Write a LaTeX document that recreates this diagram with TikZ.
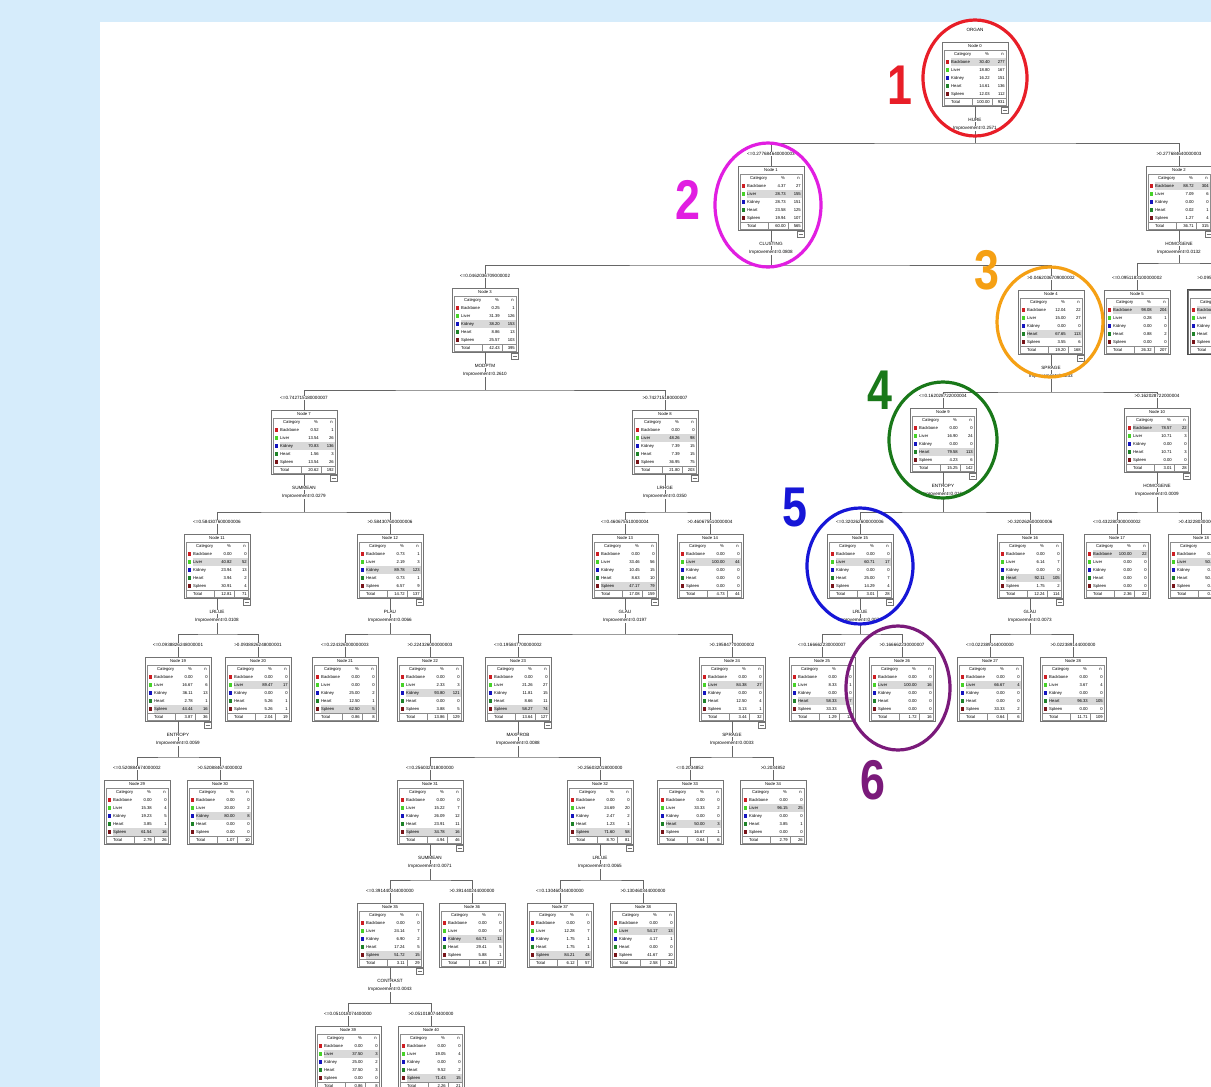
\documentclass[tikz,border=0pt]{standalone}
\usepackage{fontspec}
\setmainfont{Liberation Sans}
\usetikzlibrary{shapes.geometric}
\definecolor{bgblue}{RGB}{214,236,251}
\definecolor{cB}{RGB}{205,30,35}
\definecolor{cL}{RGB}{70,210,40}
\definecolor{cK}{RGB}{20,20,190}
\definecolor{cH}{RGB}{30,130,40}
\definecolor{cS}{RGB}{120,20,25}
\definecolor{aRed}{RGB}{232,30,40}
\definecolor{aMag}{RGB}{225,30,225}
\definecolor{aOra}{RGB}{245,160,20}
\definecolor{aGre}{RGB}{25,120,25}
\definecolor{aBlu}{RGB}{22,22,215}
\definecolor{aPur}{RGB}{122,26,122}
\tikzset{
 tbox/.style={draw=black!55, line width=0.5pt, fill=white, minimum width=66pt, minimum height=64pt, inner sep=0pt},
 tt/.style={font=\fontsize{4.2}{5}\selectfont, inner sep=0pt},
 tl/.style={tt, anchor=west},
 tr/.style={tt, anchor=east},
 lab/.style={font=\fontsize{4.6}{5.5}\selectfont, fill=white, inner sep=0.6pt},
 conn/.style={draw=black!60, line width=0.6pt},
 ring/.style={ellipse, draw, line width=3.2pt, inner sep=0pt},
 big/.style={font=\fontsize{56}{56}\selectfont\bfseries, inner sep=0pt, xscale=0.8}
}
\newcommand\tnode[8]{%
 \node[tbox] (#1) at (#2,#3+32) {};
 \begin{scope}[shift={(#2-33,#3)}]
  \ifnum#5>0\relax \fill[black!15] (9,8+8*#5) rectangle (64,16+8*#5);\fi
  \draw[black!45, line width=0.3pt] (2,8) rectangle (64,63);
  \draw[black!45, line width=0.3pt] (2,56) -- (64,56) (30,56)--(30,63) (50,56)--(50,63);
  \node[tt] at (33,4) {Node #4};
  \node[tl] at (12,12) {Category};
  \node[tr] at (47,12) {\%};
  \node[tr] at (62,12) {n};
  \foreach \c/\nm [count=\i] in {cB/Backbone,cL/Liver,cK/Kidney,cH/Heart,cS/Spleen}{
    \fill[\c] (3.5,10.3+8*\i) rectangle (7,13.8+8*\i);
    \node[tl] at (9,12+8*\i) {\nm};}
  \node[tl] at (9,60) {Total};
  \foreach \v [count=\i] in {#6}{\node[tr] at (48,12+8*\i) {\v};}
  \foreach \v [count=\i] in {#7}{\node[tr] at (63,12+8*\i) {\v};}
  \ifnum#8=1\relax \draw[black!55, line width=0.3pt, fill=white] (59,65) rectangle (66,71); \draw[black!55, line width=0.3pt] (60.5,68)--(64.5,68);\fi
 \end{scope}}
\newcommand\kids[5]{\coordinate (#1bar) at (#2,#3); \draw[conn] (#1.south) -- (#1bar); \draw[conn] (#4.north) |- (#1bar) -| (#5.north);}
\newcommand\splab[2]{\node[lab] at ([yshift=12pt]#1.north) {#2};}
\newcommand\imp[3]{\node[lab] at ([yshift=-14pt]#1.south) {#2}; \node[lab] at ([yshift=-22pt]#1.south) {Improvement=#3};}
\begin{document}
\begin{tikzpicture}[x=1pt,y=-1pt]
\useasboundingbox (0,0) rectangle (1211,1087);
\clip (0,0) rectangle (1211,1087);
\fill[bgblue] (0,0) rectangle (1211,1087);
\fill[white] (100,22) rectangle (1211,1087);
% nodes
\tnode{n0}{975}{42}{0}{1}{30.40,18.80,16.22,14.61,12.03,100.00}{277,167,151,136,112,931}{1}
\tnode{n1}{771}{166}{1}{2}{4.37,28.73,28.73,23.58,19.94,60.00}{27,155,151,125,107,565}{1}
\tnode{n2}{1179}{166}{2}{1}{88.72,7.09,0.00,0.02,1.27,36.71}{304,6,0,1,4,315}{1}
\tnode{n3}{485}{288}{3}{3}{0.25,31.39,38.20,8.86,25.57,42.43}{1,126,153,13,103,395}{1}
\tnode{n4}{1051}{290}{4}{4}{12.04,15.00,0.00,67.65,3.55,19.20}{22,27,0,113,6,168}{1}
\tnode{n5}{1137}{290}{5}{1}{98.08,0.28,0.00,0.88,0.00,26.32}{204,1,0,2,0,207}{0}
\tnode{n6}{1221}{290}{6}{1}{90.10,2.10,0.00,4.90,2.90,10.39}{91,2,0,5,3,101}{0}
\draw[line width=1.2pt, black!70] (n6.south west) rectangle (n6.north east);
\tnode{n7}{304}{410}{7}{3}{0.52,13.54,70.83,1.56,13.54,20.62}{1,26,136,3,26,192}{1}
\tnode{n8}{665}{410}{8}{2}{0.00,48.26,7.39,7.39,36.95,21.80}{0,98,15,15,75,203}{1}
\tnode{n9}{943}{408}{9}{4}{0.00,16.90,0.00,79.58,4.23,15.25}{0,24,0,113,6,142}{1}
\tnode{n10}{1157}{408}{10}{1}{78.57,10.71,0.00,10.71,0.00,3.01}{22,3,0,3,0,28}{1}
\tnode{n11}{217}{534}{11}{2}{0.00,40.82,23.94,3.94,30.91,12.81}{0,52,13,2,4,71}{1}
\tnode{n12}{390}{534}{12}{3}{0.73,2.19,89.78,0.73,6.57,14.72}{1,3,123,1,9,137}{1}
\tnode{n13}{625}{534}{13}{5}{0.00,33.46,10.45,8.63,47.17,17.08}{0,56,15,10,79,159}{1}
\tnode{n14}{710}{534}{14}{2}{0.00,100.00,0.00,0.00,0.00,4.73}{0,44,0,0,0,44}{0}
\tnode{n15}{860}{534}{15}{2}{0.00,60.71,0.00,25.00,14.29,3.01}{0,17,0,7,4,28}{1}
\tnode{n16}{1030}{534}{16}{4}{0.00,6.14,0.00,92.11,1.75,12.24}{0,7,0,105,2,114}{1}
\tnode{n17}{1117}{534}{17}{1}{100.00,0.00,0.00,0.00,0.00,2.36}{22,0,0,0,0,22}{0}
\tnode{n18}{1201}{534}{18}{2}{0.00,50.00,0.00,50.00,0.00,0.65}{0,3,0,3,0,6}{0}
\tnode{n19}{178}{657}{19}{5}{0.00,16.67,36.11,2.78,44.44,3.87}{0,6,13,1,16,36}{1}
\tnode{n20}{258}{657}{20}{2}{0.00,89.47,0.00,5.26,5.26,2.04}{0,17,0,1,1,19}{0}
\tnode{n21}{345}{657}{21}{5}{0.00,0.00,25.00,12.50,62.50,0.86}{0,0,2,1,5,8}{0}
\tnode{n22}{430}{657}{22}{3}{0.00,2.33,93.80,0.00,3.88,13.86}{0,3,121,0,5,129}{0}
\tnode{n23}{518}{657}{23}{5}{0.00,21.26,11.81,8.66,58.27,13.64}{0,27,15,11,74,127}{1}
\tnode{n24}{732}{657}{24}{2}{0.00,84.38,0.00,12.50,3.13,3.44}{0,27,0,4,1,32}{1}
\tnode{n25}{822}{657}{25}{4}{0.00,8.33,0.00,58.33,33.33,1.29}{0,1,0,7,4,12}{0}
\tnode{n26}{902}{657}{26}{2}{0.00,100.00,0.00,0.00,0.00,1.72}{0,16,0,0,0,16}{0}
\tnode{n27}{990}{657}{27}{2}{0.00,66.67,0.00,0.00,33.33,0.64}{0,4,0,0,2,6}{0}
\tnode{n28}{1073}{657}{28}{4}{0.00,3.67,0.00,96.33,0.00,11.71}{0,4,0,105,0,109}{0}
\tnode{n29}{137}{780}{29}{5}{0.00,15.38,19.23,3.85,61.54,2.79}{0,4,5,1,16,26}{0}
\tnode{n30}{220}{780}{30}{3}{0.00,20.00,80.00,0.00,0.00,1.07}{0,2,8,0,0,10}{0}
\tnode{n31}{430}{780}{31}{5}{0.00,15.22,26.09,23.91,34.78,4.94}{0,7,12,11,16,46}{1}
\tnode{n32}{600}{780}{32}{5}{0.00,24.69,2.47,1.23,71.60,8.70}{0,20,2,1,58,81}{1}
\tnode{n33}{690}{780}{33}{4}{0.00,33.33,0.00,50.00,16.67,0.64}{0,2,0,3,1,6}{0}
\tnode{n34}{773}{780}{34}{2}{0.00,96.15,0.00,3.85,0.00,2.79}{0,25,0,1,0,26}{0}
\tnode{n35}{390}{903}{35}{5}{0.00,24.14,6.90,17.24,51.72,3.11}{0,7,2,5,15,29}{1}
\tnode{n36}{472}{903}{36}{3}{0.00,0.00,64.71,29.41,5.88,1.83}{0,0,11,5,1,17}{0}
\tnode{n37}{560}{903}{37}{5}{0.00,12.28,1.75,1.75,84.21,6.12}{0,7,1,1,48,57}{0}
\tnode{n38}{643}{903}{38}{2}{0.00,54.17,4.17,0.00,41.67,2.58}{0,13,1,0,10,24}{0}
\tnode{n39}{348}{1026}{39}{2}{0.00,37.50,25.00,37.50,0.00,0.86}{0,3,2,3,0,8}{0}
\tnode{n40}{431}{1026}{40}{5}{0.00,19.05,0.00,9.52,71.43,2.26}{0,4,0,2,15,21}{0}
% connectors
\kids{n0}{975}{143}{n1}{n2}
\kids{n1}{771}{265}{n3}{n4}
\kids{n2}{1179}{263}{n5}{n6}
\kids{n3}{485}{390}{n7}{n8}
\kids{n4}{1051}{392}{n9}{n10}
\kids{n7}{304}{512}{n11}{n12}
\kids{n8}{665}{512}{n13}{n14}
\kids{n9}{943}{512}{n15}{n16}
\kids{n10}{1157}{512}{n17}{n18}
\kids{n11}{217}{634}{n19}{n20}
\kids{n12}{390}{634}{n21}{n22}
\kids{n13}{625}{634}{n23}{n24}
\kids{n15}{860}{634}{n25}{n26}
\kids{n16}{1030}{634}{n27}{n28}
\kids{n19}{178}{757}{n29}{n30}
\kids{n23}{518}{757}{n31}{n32}
\kids{n24}{732}{757}{n33}{n34}
\kids{n31}{430}{880}{n35}{n36}
\kids{n32}{600}{880}{n37}{n38}
\kids{n35}{390}{1003}{n39}{n40}
% labels
\splab{n0}{ORGAN}
\splab{n1}{<=0.277684640000003}\splab{n2}{>0.277684640000003}
\splab{n3}{<=0.0462036709000002}\splab{n4}{>0.0462036709000002}
\splab{n5}{<=0.0951183100000002}\splab{n6}{>0.0951183100000002}
\splab{n7}{<=0.742715180000007}\splab{n8}{>0.742715180000007}
\splab{n9}{<=0.162028722000004}\splab{n10}{>0.162028722000004}
\splab{n11}{<=0.584307600000006}\splab{n12}{>0.584307600000006}
\splab{n13}{<=0.460675510000004}\splab{n14}{>0.460675510000004}
\splab{n15}{<=0.320262600000006}\splab{n16}{>0.320262600000006}
\splab{n17}{<=0.432280300000002}\splab{n18}{>0.432280300000002}
\splab{n19}{<=0.0938826248000001}\splab{n20}{>0.0938826248000001}
\splab{n21}{<=0.224326000000003}\splab{n22}{>0.224326000000003}
\splab{n23}{<=0.195847700000002}\splab{n24}{>0.195847700000002}
\splab{n25}{<=0.166662230000007}\splab{n26}{>0.166662230000007}
\splab{n27}{<=0.022389144000000}\splab{n28}{>0.022389144000000}
\splab{n29}{<=0.520884674000002}\splab{n30}{>0.520884674000002}
\splab{n31}{<=0.256032018000000}\splab{n32}{>0.256032018000000}
\splab{n33}{<=0.2034852}\splab{n34}{>0.2034852}
\splab{n35}{<=0.391440244000000}\splab{n36}{>0.391440244000000}
\splab{n37}{<=0.130460344000000}\splab{n38}{>0.130460344000000}
\splab{n39}{<=0.051018074400000}\splab{n40}{>0.051018074400000}
\imp{n0}{HURE}{0.2571}
\imp{n1}{CLUSTING}{0.0808}
\imp{n2}{HOMOGENE}{0.0132}
\imp{n3}{MODPTM}{0.2610}
\imp{n4}{SPRAGE}{0.0233}
\imp{n7}{SUMMEAN}{0.0279}
\imp{n8}{LRHGE}{0.0350}
\imp{n9}{ENTROPY}{0.0164}
\imp{n10}{HOMOGENE}{0.0009}
\imp{n11}{LRLUE}{0.0108}
\imp{n12}{PLAU}{0.0066}
\imp{n13}{GLAU}{0.0197}
\imp{n15}{LRLUE}{0.0071}
\imp{n16}{GLAU}{0.0073}
\imp{n19}{ENTROPY}{0.0059}
\imp{n23}{MAXPROB}{0.0088}
\imp{n24}{SPRAGE}{0.0033}
\imp{n31}{SUMMEAN}{0.0071}
\imp{n32}{LRLUE}{0.0065}
\imp{n35}{CONTRAST}{0.0043}
% annotations
\node[ring, draw=aRed, minimum width=104pt, minimum height=116pt] (e1) at (975,78) {};
\node[ring, draw=aMag, minimum width=106pt, minimum height=124pt] (e2) at (768,205) {};
\node[ring, draw=aOra, minimum width=106pt, minimum height=110pt] (e3) at (1050,322) {};
\node[ring, draw=aGre, minimum width=108pt, minimum height=116pt] (e4) at (943,440) {};
\node[ring, draw=aBlu, minimum width=106pt, minimum height=116pt] (e5) at (860,566) {};
\node[ring, draw=aPur, minimum width=104pt, minimum height=124pt] (e6) at (898,688) {};
\node[big, text=aRed] (d1) at (900,85) {1};
\node[big, text=aMag] (d2) at (688,200) {2};
\node[big, text=aOra] (d3) at (987,270) {3};
\node[big, text=aGre] (d4) at (880,390) {4};
\node[big, text=aBlu] (d5) at (795,508) {5};
\node[big, text=aPur] (d6) at (873,780) {6};
\end{tikzpicture}
\end{document}
